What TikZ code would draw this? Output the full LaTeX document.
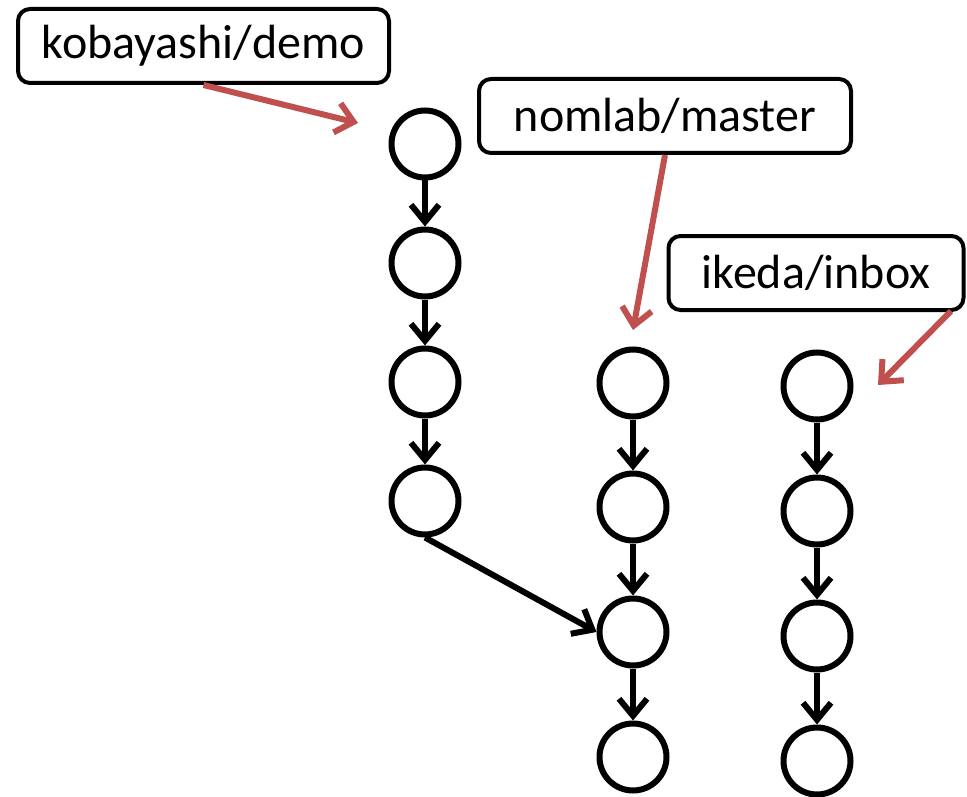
\documentclass[tikz,border=0pt]{standalone}
\usepackage{fontspec}
\setmainfont{Carlito}
\usetikzlibrary{arrows.meta}
\definecolor{refred}{RGB}{192,80,77}
\begin{document}
\begin{tikzpicture}[x=1pt,y=-1pt,
  commit/.style={circle,draw=black,line width=6pt,minimum size=67pt,inner sep=0pt},
  branch/.style={draw=black,line width=4pt,rounded corners=12pt,minimum height=74pt,
    inner sep=0pt,font=\fontsize{48}{52}\selectfont},
  link/.style={line width=6pt,draw=black,-{Straight Barb[length=17pt,width=28pt,line width=6pt]}},
  pointer/.style={line width=6pt,draw=refred,-{Straight Barb[length=17pt,width=30pt,line width=6pt]}}]
\useasboundingbox (0,0) rectangle (967,797);

% commits: demo line
\node[commit] (a1) at (425,144) {};
\node[commit] (a2) at (425,263) {};
\node[commit] (a3) at (425,382) {};
\node[commit] (a4) at (425,501) {};
% commits: master line
\node[commit] (b1) at (633,383) {};
\node[commit] (b2) at (633,507) {};
\node[commit] (b3) at (633,632) {};
\node[commit] (b4) at (633,757) {};
% commits: inbox line
\node[commit] (c1) at (817,386) {};
\node[commit] (c2) at (817,511) {};
\node[commit] (c3) at (817,636) {};
\node[commit] (c4) at (817,761) {};

% parent links
\draw[link] (a1) -- (a2);
\draw[link] (a2) -- (a3);
\draw[link] (a3) -- (a4);
\draw[link] (a4.south) -- (b3.west);
\draw[link] (b1) -- (b2);
\draw[link] (b2) -- (b3);
\draw[link] (b3) -- (b4);
\draw[link] (c1) -- (c2);
\draw[link] (c2) -- (c3);
\draw[link] (c3) -- (c4);

% branch labels
\node[branch,minimum width=371pt] (kob) at (203.5,46) {kobayashi/demo};
\node[branch,minimum width=372pt] (nom) at (665,116) {nomlab/master};
\node[branch,minimum width=295pt] (ike) at (816,273) {ikeda/inbox};

% branch pointers
\coordinate (kobtip) at (358,123);
\coordinate (nomtip) at (633,330);
\coordinate (iketip) at (878,385);
\coordinate (ikefoot) at (951,311);
\draw[pointer] (kob.south) -- (kobtip);
\draw[pointer] (nom.south) -- (nomtip);
\draw[pointer] (ikefoot) -- (iketip);
\end{tikzpicture}
\end{document}
